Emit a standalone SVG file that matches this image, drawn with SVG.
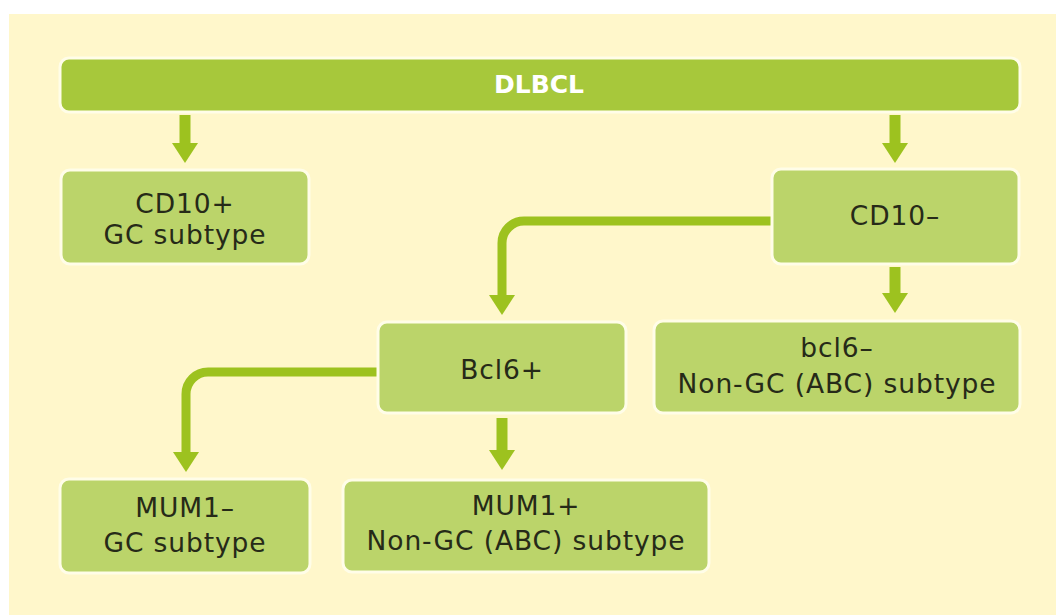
<svg xmlns="http://www.w3.org/2000/svg" width="1056" height="615" viewBox="0 0 1056 615">
<defs>
<style>
.box{fill:#BBD46A;stroke:#FFFDE8;stroke-width:3}
.bar{fill:#A7C83B;stroke:#FFFDE8;stroke-width:3}
.t{font-family:"DejaVu Sans","Liberation Sans",sans-serif;font-size:26.5px;fill:#262A18;text-anchor:middle;letter-spacing:0.9px}
.tb{font-family:"DejaVu Sans","Liberation Sans",sans-serif;font-size:25px;font-weight:bold;fill:#FFFFFF;text-anchor:middle}
.c{fill:none;stroke:#9DC21F;stroke-linejoin:round}
.s{stroke-width:11}
.n{stroke-width:9}
</style>
<marker id="ah" viewBox="0 -13 20 26" refX="0" refY="0" markerWidth="20" markerHeight="26" markerUnits="userSpaceOnUse" orient="auto">
<path d="M0,-13 L20,0 L0,13 z" fill="#9DC21F"/>
</marker>
</defs>
<rect x="0" y="0" width="1056" height="615" fill="#FFFFFF"/>
<rect x="9" y="14" width="1047" height="601" fill="#FFF7CB"/>
<g id="connectors">
<path class="c s" d="M185,115 V143" marker-end="url(#ah)"/>
<path class="c s" d="M895,115 V143" marker-end="url(#ah)"/>
<path class="c s" d="M895,267 V293" marker-end="url(#ah)"/>
<path class="c s" d="M502,418 V450" marker-end="url(#ah)"/>
<path class="c n" d="M774,221 H524 A22,22 0 0 0 502,243 V295" marker-end="url(#ah)"/>
<path class="c n" d="M380,372 H208 A22,22 0 0 0 186,394 V452" marker-end="url(#ah)"/>
</g>
<g id="dlbcl">
<rect class="bar" x="60" y="58" width="960" height="54" rx="9"/>
<text class="tb" x="539" y="93">DLBCL</text>
</g>
<g id="cd10pos">
<rect class="box" x="61" y="170" width="248" height="94" rx="9"/>
<text class="t" x="185" y="213">CD10+</text>
<text class="t" x="185" y="244">GC subtype</text>
</g>
<g id="cd10neg">
<rect class="box" x="772" y="169" width="247" height="95" rx="9"/>
<text class="t" x="895" y="225">CD10–</text>
</g>
<g id="bcl6pos">
<rect class="box" x="378" y="322" width="248" height="91" rx="9"/>
<text class="t" x="502" y="379">Bcl6+</text>
</g>
<g id="bcl6neg">
<rect class="box" x="654" y="321" width="366" height="92" rx="9"/>
<text class="t" x="837" y="357">bcl6–</text>
<text class="t" x="837" y="393">Non-GC (ABC) subtype</text>
</g>
<g id="mum1neg">
<rect class="box" x="60" y="479" width="250" height="94" rx="9"/>
<text class="t" x="185" y="517">MUM1–</text>
<text class="t" x="185" y="552">GC subtype</text>
</g>
<g id="mum1pos">
<rect class="box" x="343" y="480" width="366" height="92" rx="9"/>
<text class="t" x="526" y="515">MUM1+</text>
<text class="t" x="526" y="550">Non-GC (ABC) subtype</text>
</g>
</svg>
